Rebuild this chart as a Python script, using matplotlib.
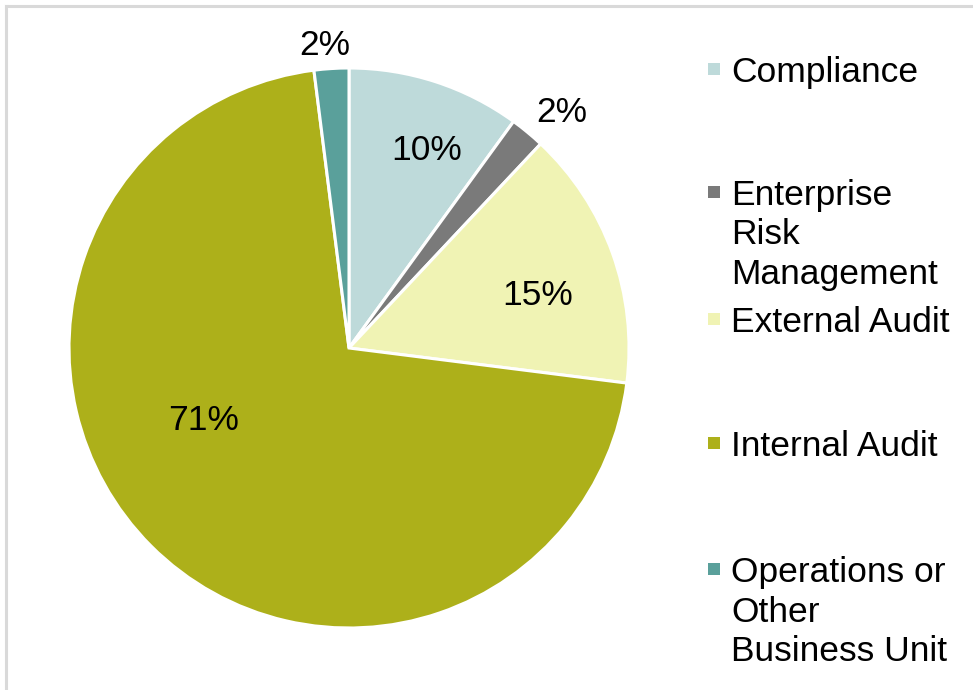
import numpy as np
import matplotlib.pyplot as plt
from matplotlib.lines import Line2D
from matplotlib.patches import Rectangle

plt.rcParams['font.family'] = ['Liberation Sans', 'DejaVu Sans']

# share of respondents by function, clockwise from 12 o'clock
categories = ['Compliance', 'Enterprise Risk Management', 'External Audit',
              'Internal Audit', 'Operations or Other Business Unit']
shares = [10, 2, 15, 71, 2]
colors = ['#BEDADA', '#7A7A7A', '#F0F3B4', '#ADB01A', '#5AA09B']

# legend text, wrapped as in the original layout
legend_lines = [['Compliance'],
                ['Enterprise', 'Risk', 'Management'],
                ['External Audit'],
                ['Internal Audit'],
                ['Operations or', 'Other', 'Business Unit']]

# label placement per slice: radius (in pie radii) and angle tweak (deg)
label_r = [0.757, 1.133, 0.700, 0.580, 1.085]
label_dang = [-3.6, -2.6, -4.4, -18.3, 0.9]

W, H = 973, 690
fig = plt.figure(figsize=(W / 100, H / 100), dpi=100)
ax = fig.add_axes([69 / W, (H - 628) / H, 560 / W, 560 / H])

wedges, _ = ax.pie(shares, colors=colors, startangle=90, counterclock=False,
                   radius=1.0, wedgeprops=dict(edgecolor='white', linewidth=2.2))
ax.set_xlim(-1, 1)
ax.set_ylim(-1, 1)
ax.set_aspect('equal')

total = sum(shares)
for w, v, r, da in zip(wedges, shares, label_r, label_dang):
    mid = np.deg2rad((w.theta1 + w.theta2) / 2 + da)
    ax.text(r * np.cos(mid), r * np.sin(mid), f'{round(100 * v / total)}%',
            ha='center', va='center', fontsize=25.5, color='black')

# legend drawn by hand: square key + wrapped labels
first_baseline = [82, 205, 332, 456, 582]
line_gap = 39.5
for col, lines, base in zip(colors, legend_lines, first_baseline):
    fig.patches.append(Rectangle((708 / W, (H - base + 7) / H), 12 / W, 12 / H,
                                 transform=fig.transFigure, facecolor=col,
                                 edgecolor='none'))
    for i, txt in enumerate(lines):
        fig.text(731 / W, (H - base - i * line_gap) / H, txt,
                 ha='left', va='baseline', fontsize=25.5, color='black')

# thin grey frame on the top and left edges
fig.add_artist(Line2D([6 / W, 6 / W], [0, (H - 6) / H], color='#D9D9D9',
                      linewidth=2.2, transform=fig.transFigure))
fig.add_artist(Line2D([6 / W, 1], [(H - 6) / H, (H - 6) / H], color='#D9D9D9',
                      linewidth=2.2, transform=fig.transFigure))

fig.savefig('out.png', dpi=100)
